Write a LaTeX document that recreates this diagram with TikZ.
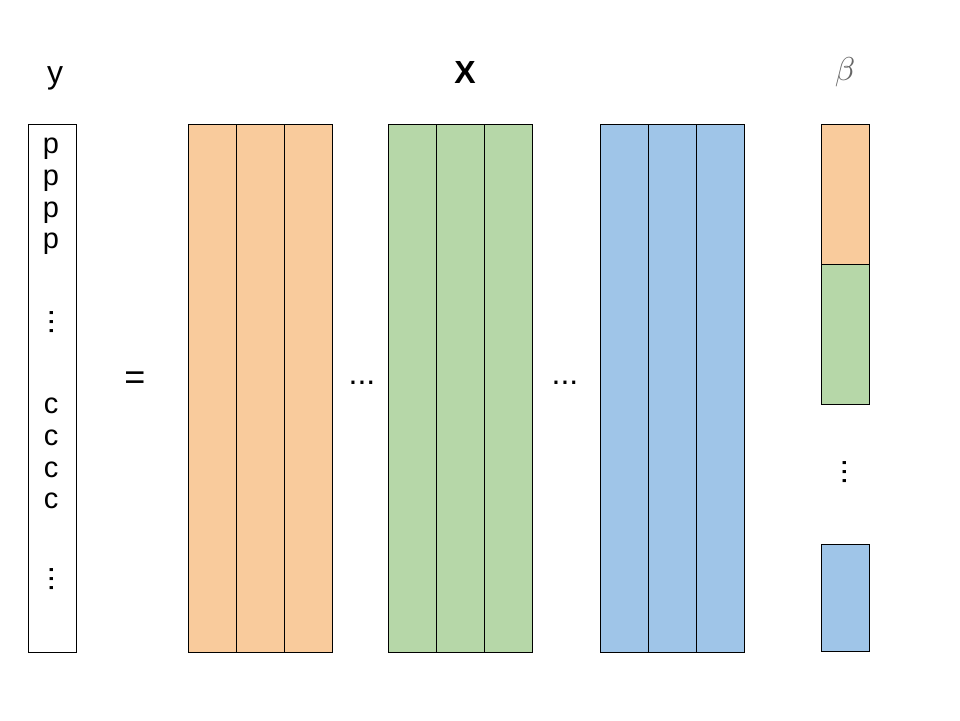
\documentclass[tikz,border=0pt]{standalone}
\usepackage{fontspec}
\setmainfont{Liberation Sans}
\usetikzlibrary{positioning}
\definecolor{peach}{HTML}{F9CB9C}
\definecolor{sage}{HTML}{B6D7A8}
\definecolor{sky}{HTML}{9FC5E8}
\definecolor{betagray}{HTML}{666666}

\begin{document}
\begin{tikzpicture}[
    x=1pt,y=-1pt,
    col/.style={draw,line width=1pt,minimum width=48pt,minimum height=528pt,inner sep=0pt,outer sep=0pt,anchor=north west},
    bpart/.style={draw,line width=1pt,minimum width=48pt,inner sep=0pt,outer sep=0pt,anchor=north west},
    head/.style={anchor=base,inner sep=0pt,font=\fontsize{32}{36}\selectfont},
    entry/.style={anchor=base,inner sep=0pt,font=\fontsize{29}{32}\selectfont},
    dots/.style={inner sep=0pt,font=\fontsize{32}{36}\selectfont}
  ]
    \useasboundingbox (0,0) rectangle (960,720);
    % headings
    \node[head] (ylab) at (55,83) {y};
    \node[head] (xlab) at (465,83) {\textbf{X}};
    \node[anchor=base,inner sep=0pt,text=betagray,scale=3.3] (blab) at (845,80) {$\beta$};
    % response vector
    \node[col,fill=white] (yvec) at (28,124) {};
    \foreach \k/\yy in {1/153,2/185,3/217,4/248}
      \node[entry] (p\k) at (51,\yy) {p};
    \foreach \k/\yy in {1/413,2/445,3/477,4/508}
      \node[entry] (c\k) at (51,\yy) {c};
    \node[dots,rotate=90] (yd1) at (52,322) {...};
    \node[dots,rotate=90] (yd2) at (52,579) {...};
    \node[inner sep=0pt,font=\fontsize{36}{40}\selectfont] (eq) at (135,381) {=};
    % design matrix columns
    \foreach \k/\xx in {1/188,2/236,3/284}
      \node[col,fill=peach] (o\k) at (\xx,124) {};
    \foreach \k/\xx in {1/388,2/436,3/484}
      \node[col,fill=sage] (g\k) at (\xx,124) {};
    \foreach \k/\xx in {1/600,2/648,3/696}
      \node[col,fill=sky] (b\k) at (\xx,124) {};
    \node[dots] (xd1) at (362,383) {...};
    \node[dots] (xd2) at (565,383) {...};
    % coefficients
    \node[bpart,fill=peach,minimum height=140pt] (bo) at (821,124) {};
    \node[bpart,fill=sage,minimum height=140pt] (bg) at (821,264) {};
    \node[bpart,fill=sky,minimum height=107pt] (bb) at (821,544) {};
    \node[dots,rotate=90] (bd) at (845,472) {...};
\end{tikzpicture}
\end{document}
